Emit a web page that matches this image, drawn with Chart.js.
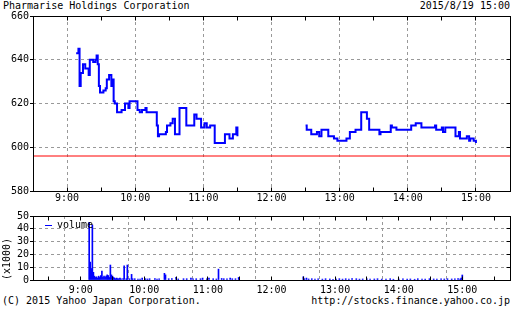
<!DOCTYPE html>
<html>
<head>
<meta charset="utf-8">
<script src="https://cdn.jsdelivr.net/npm/chart.js@4.4.0/dist/chart.umd.min.js"></script>
<style>
  body { margin: 0; background: #fff; width: 512px; height: 310px; position: relative; overflow: hidden;
         font: 10px "DejaVu Sans Mono", monospace; color: #000; }
  .t { position: absolute; line-height: 12px; white-space: pre; }
  canvas { position: absolute; left: 0; }
</style>
</head>
<body>
<div class="t" style="left:3px;top:0">Pharmarise Holdings Corporation</div>
<div class="t" style="right:2px;top:0">2015/8/19 15:00</div>
<canvas id="price" width="512" height="205" style="top:0"></canvas>
<canvas id="vol" width="512" height="90" style="top:205px"></canvas>
<div class="t" style="left:45px;top:219px"><span style="display:inline-block;width:7px;height:1px;background:#00f;vertical-align:middle;margin-right:5px"></span>volume</div>
<div class="t" style="left:2px;top:295px">(C) 2015 Yahoo Japan Corporation.</div>
<div class="t" style="right:2px;top:295px">http://stocks.finance.yahoo.co.jp</div>
<script>
// minutes after 9:00
var amTimes  = [8, 10, 11, 12, 14, 16, 19, 20, 23, 25, 26, 27, 28, 29, 32, 34, 35, 37, 39, 40,
                41, 42, 44, 48, 51, 54, 55, 58, 62, 64, 66, 69, 70, 79, 80, 81, 87, 88, 91, 93,
                95, 99, 105, 112, 114, 115, 118, 121, 123, 126, 130, 139, 143, 146, 149, 150];
var amPrices = [643, 645, 628, 634, 638, 636, 633, 640, 639, 640, 642, 638, 628, 625, 626, 627, 631, 633, 628, 631,
                621, 620, 616, 617, 620, 618, 621, 621, 617, 616, 617, 618, 616, 610, 605, 606, 607, 610, 611, 613,
                606, 618, 610, 615, 613, 613, 609, 611, 609, 610, 602, 606, 604, 606, 609, 605];
var pmTimes  = [210, 211, 215, 220, 222, 224, 230, 235, 238, 246, 249, 254, 259, 264, 266, 275, 276, 285,
                286, 290, 303, 307, 312, 324, 325, 330, 331, 333, 342, 345, 346, 352, 354, 355, 358, 360];
var pmPrices = [610, 608, 606, 607, 605, 608, 605, 604, 603, 604, 607, 608, 616, 613, 608, 606, 607, 610,
                609, 608, 610, 611, 609, 610, 608, 609, 607, 609, 605, 607, 604, 605, 603, 604, 603, 602];
var prevClose = 596;

var volTimes  = [8, 9, 10, 11, 12, 13, 14, 15, 16, 17, 18, 19, 20, 21, 22, 23, 24, 25, 26, 27,
                 28, 29, 30, 31, 32, 33, 34, 35, 36, 37, 38, 40, 41, 43, 44, 46, 48, 49, 51, 54,
                 56, 58, 61, 63, 65, 70, 72, 74, 79, 80, 83, 86, 90, 92, 97, 100, 104, 106, 109, 113,
                 115, 119, 121, 125, 128, 130, 133, 135, 138, 141, 143, 146, 149,
                 210, 211, 213, 215, 218, 221, 224, 228, 231, 235, 238, 241, 244, 247, 250, 253, 256, 260, 263, 266,
                 270, 273, 277, 280, 284, 288, 292, 295, 300, 304, 308, 311, 315, 318, 322, 325, 329, 333, 336, 340,
                 343, 346, 350, 353, 356, 358, 359, 360];
var volValues = [45, 14, 9, 43, 6, 3, 2, 2.5, 1.5, 3, 2, 3.5, 7, 2, 3, 2, 3, 4, 3.5, 2,
                 11.7, 4, 3, 2, 1.5, 1, 1.5, 1, 1, 1.5, 1, 1.2, 11, 1, 11.7, 1, 4.4, 1, 1, 0.8,
                 0.8, 1.5, 1, 0.8, 1, 1.2, 0.8, 1, 5.2, 4, 1, 1.2, 2, 0.8, 1, 1, 1.5, 1, 1, 1,
                 1.5, 1, 1.5, 1, 0.8, 8.5, 1.2, 1, 1, 1.5, 1, 1, 2,
                 2.5, 1, 1.5, 0.8, 1, 0.8, 1, 0.7, 1, 0.8, 0.6, 0.8, 1, 0.7, 1, 0.8, 1.2, 1, 0.7, 0.8,
                 1, 0.7, 0.8, 1, 0.7, 0.8, 1, 0.6, 0.8, 1, 0.7, 0.8, 0.6, 1, 0.8, 0.7, 1, 0.8, 0.7, 1,
                 0.8, 1, 0.8, 1, 1.2, 0.8, 1.5, 3.9];

var xMin = -30, xMax = 390;

Chart.defaults.font.family = "DejaVu Sans Mono";
Chart.defaults.font.size = 10;
Chart.defaults.color = "#000";

function pts(ts, vs) {
  return ts.map(function(t, i) { return { x: t, y: vs[i] }; });
}
var priceData = pts(amTimes, amPrices).concat([{ x: 180, y: null }], pts(pmTimes, pmPrices));

function timeLabel(v) {
  return v % 60 === 0 ? (9 + v / 60) + ":00" : "";
}

// box round the plot, ticks pointing in on top, bottom and right
var frame = {
  id: "frame",
  afterDraw: function(chart) {
    var ctx = chart.ctx, a = chart.chartArea, xs = chart.scales.x, ys = chart.scales.y;
    var L = Math.floor(a.left) + 0.5, R = Math.floor(a.right) + 0.5;
    var T = Math.floor(a.top) + 0.5, B = Math.floor(a.bottom) + 0.5;
    ctx.save();
    ctx.strokeStyle = "#000";
    ctx.lineWidth = 1;
    ctx.strokeRect(L, T, R - L, B - T);
    ctx.beginPath();
    xs.ticks.forEach(function(t) {
      var px = Math.floor(xs.getPixelForValue(t.value)) + 0.5;
      ctx.moveTo(px, T); ctx.lineTo(px, T + 4);
      ctx.moveTo(px, B); ctx.lineTo(px, B - 4);
    });
    ys.ticks.forEach(function(t) {
      var py = Math.floor(ys.getPixelForValue(t.value)) + 0.5;
      ctx.moveTo(R, py); ctx.lineTo(R - 4, py);
    });
    ctx.stroke();
    ctx.restore();
  }
};

function xAxis(h, pad) {
  return {
    type: "linear", min: xMin, max: xMax,
    afterFit: function(s) { s.height = h; },
    ticks: { stepSize: 30, autoSkip: false, maxRotation: 0, padding: pad, callback: timeLabel },
    grid: {
      drawTicks: false,
      color: function(c) { return c.tick && c.tick.value % 60 === 0 ? "#999" : "rgba(0,0,0,0)"; }
    },
    border: { display: false, dash: [3, 3] }
  };
}

function yAxis(min, max, step, title) {
  return {
    min: min, max: max,
    afterFit: function(s) { s.width = 33; },
    ticks: { stepSize: step, padding: 1, autoSkip: false },
    grid: { color: "#999", tickColor: "#000", tickLength: 3 },
    border: { display: false, dash: [3, 3] },
    title: title
  };
}

new Chart(document.getElementById("price"), {
  type: "line",
  data: {
    datasets: [
      {
        data: [{ x: xMin, y: prevClose }, { x: xMax, y: prevClose }],
        borderColor: "#ff0000", borderWidth: 1, pointRadius: 0
      },
      {
        data: priceData,
        borderColor: "#0000ff", borderWidth: 2, pointRadius: 0,
        stepped: "before", spanGaps: false
      }
    ]
  },
  options: {
    responsive: false,
    animation: false,
    layout: { padding: { top: 16, right: 2, left: 0, bottom: 0 } },
    plugins: { legend: { display: false }, tooltip: { enabled: false } },
    scales: {
      x: xAxis(14, 1),
      y: yAxis(580, 660, 20, { display: false })
    }
  },
  plugins: [frame]
});

new Chart(document.getElementById("vol"), {
  type: "bar",
  data: {
    datasets: [{
      data: pts(volTimes, volValues),
      backgroundColor: "#0000ff", barThickness: 1
    }]
  },
  options: {
    responsive: false,
    animation: false,
    layout: { padding: { top: 11, right: 2, left: 0, bottom: 0 } },
    plugins: { legend: { display: false }, tooltip: { enabled: false } },
    scales: {
      x: xAxis(15, 4),
      y: yAxis(0, 50, 10, { display: true, text: "(x1000)", align: "start", padding: { top: 1, bottom: 0 } })
    }
  },
  plugins: [frame]
});
</script>
</body>
</html>
